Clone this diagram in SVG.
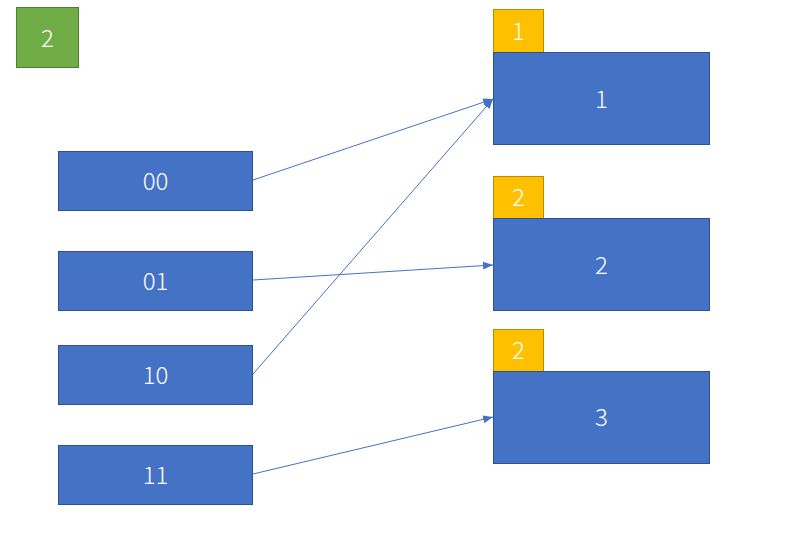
<svg xmlns="http://www.w3.org/2000/svg" width="811" height="553" viewBox="0 0 811 553">
<defs>
<style>
.b{fill:#4472C4;stroke:#2F528F;stroke-width:1}
.y{fill:#FFC000;stroke:#BC8C00;stroke-width:1}
.g{fill:#70AD47;stroke:#507E32;stroke-width:1}
text{font-family:"Noto Sans CJK SC","Noto Sans","Liberation Sans",sans-serif;font-size:24px;font-weight:300;fill:#fff;text-anchor:middle;dominant-baseline:central}
.c{stroke:#4472C4;stroke-width:1;fill:none;marker-end:url(#a)}
</style>
<marker id="a" viewBox="0 0 10 10" refX="10" refY="5" markerWidth="10" markerHeight="10" markerUnits="userSpaceOnUse" orient="auto">
<path d="M0,1 L10,5 L0,9 z" fill="#4472C4"/>
</marker>
</defs>
<rect width="811" height="553" fill="#fff"/>
<g id="g2"><rect class="g" x="16.5" y="7.5" width="62" height="60"/><text x="47.5" y="36">2</text></g>
<g id="n00"><rect class="b" x="58.5" y="151.5" width="194" height="59"/><text x="155.5" y="179">00</text></g>
<g id="n01"><rect class="b" x="58.5" y="251.5" width="194" height="59"/><text x="155.5" y="279">01</text></g>
<g id="n10"><rect class="b" x="58.5" y="345.5" width="194" height="59"/><text x="155.5" y="373">10</text></g>
<g id="n11"><rect class="b" x="58.5" y="445.5" width="194" height="59"/><text x="155.5" y="473">11</text></g>
<g id="y1"><rect class="y" x="493.5" y="9.5" width="50" height="43"/><text x="518.5" y="29">1</text></g>
<g id="b1"><rect class="b" x="493.5" y="52.5" width="216" height="92"/><text x="601.5" y="97">1</text></g>
<g id="y2"><rect class="y" x="493.5" y="176.5" width="50" height="42"/><text x="518.5" y="195.5">2</text></g>
<g id="b2"><rect class="b" x="493.5" y="218.5" width="216" height="92"/><text x="601.5" y="263">2</text></g>
<g id="y3"><rect class="y" x="493.5" y="329.5" width="50" height="42"/><text x="518.5" y="348.5">2</text></g>
<g id="b3"><rect class="b" x="493.5" y="371.5" width="216" height="92"/><text x="601.5" y="415">3</text></g>
<g id="connectors">
<line class="c" x1="253" y1="180" x2="493" y2="99"/>
<line class="c" x1="253" y1="280" x2="493" y2="265"/>
<line class="c" x1="253" y1="374" x2="493" y2="99"/>
<line class="c" x1="253" y1="474" x2="493" y2="417"/>
</g>
</svg>
